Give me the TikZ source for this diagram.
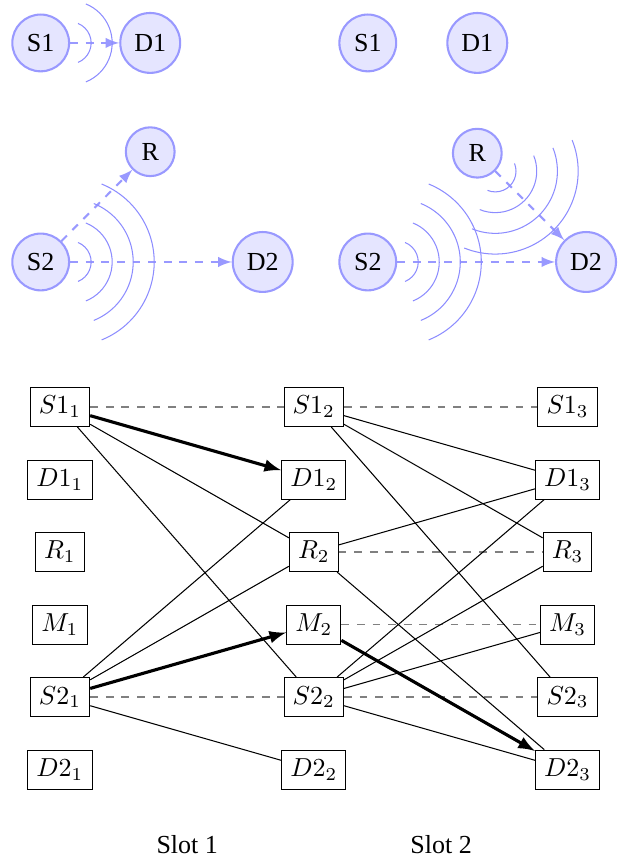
\documentclass[tikz,border=0pt]{standalone}
\usepackage[no-math]{fontspec}
\newfontfamily\timesfont{Liberation Serif}
\usepackage{amsmath}
\usetikzlibrary{arrows}

\begin{document}
\begin{tikzpicture}[
  nodo/.style = {circle, draw = blue!40, fill = blue!10, thick, font = \timesfont},
  enlace/.style = {thick, dashed, blue!40, -latex},
  onda/.style = {blue!45},
  caja/.style = {draw, rectangle},
  tx/.style = {very thick, -latex},
  espera/.style = {semithick, dashed, gray}
]
\useasboundingbox (0,0) rectangle (8.405,-11.608);

% slot 1
\node[nodo] (S1a) at (0.55,-0.58) {S1};
\node[nodo] (D1a) at (2.03,-0.58) {D1};
\node[nodo] (Ra) at (2.03,-2.05) {R};
\node[nodo] (S2a) at (0.55,-3.54) {S2};
\node[nodo] (D2a) at (3.55,-3.54) {D2};

\draw[enlace] (S1a) -- (D1a);
\draw[enlace] (S2a) -- (Ra);
\draw[enlace] (S2a) -- (D2a);

\foreach \r in {1,2}
  \draw[onda, shift={(S1a.east)}] (-68:0.284*\r) arc (-68:68:0.284*\r);
\foreach \r in {1,...,4}
  \draw[onda, shift={(S2a.east)}] (-68:0.284*\r) arc (-68:68:0.284*\r);

% slot 2
\node[nodo] (S1b) at (4.97,-0.58) {S1};
\node[nodo] (D1b) at (6.45,-0.58) {D1};
\node[nodo] (Rb) at (6.45,-2.07) {R};
\node[nodo] (S2b) at (4.97,-3.54) {S2};
\node[nodo] (D2b) at (7.92,-3.54) {D2};

\draw[enlace] (Rb) -- (D2b);
\draw[enlace] (S2b) -- (D2b);

\foreach \r in {1,...,4} {
  \draw[onda, shift={(S2b.east)}] (-68:0.284*\r) arc (-68:68:0.284*\r);
  \draw[onda, shift={(Rb.south east)}] (-112:0.28*\r) arc (-112:22:0.28*\r);
}

% time-expanded graph
\foreach \col in {1,2,3}
  \foreach \nom/\fila in {S1/0, D1/1, R/2, M/3, S2/4, D2/5}
    \node[caja] (\nom-\col) at ({0.81+3.43*(\col-1)},{-5.5-0.98*\fila}) {$\nom_\col$};

\foreach \a/\b in {S1-1/S1-2, S2-1/S2-2, S1-2/S1-3, R-2/R-3, M-2/M-3, S2-2/S2-3}
  \draw[espera] (\a) -- (\b);

\foreach \a/\b in {S1-1/R-2, S1-1/S2-2, S2-1/D1-2, S2-1/R-2, S2-1/D2-2,
                   S1-2/D1-3, S1-2/R-3, S1-2/S2-3, R-2/D1-3, R-2/D2-3,
                   S2-2/D1-3, S2-2/R-3, S2-2/M-3, S2-2/D2-3}
  \draw (\a) -- (\b);

\draw[tx] (S1-1) -- (D1-2);
\draw[tx] (S2-1) -- (M-2);
\draw[tx] (M-2) -- (D2-3);

\node (slot1) at (2.53,-11.41) {\timesfont Slot 1};
\node (slot2) at (5.96,-11.41) {\timesfont Slot 2};

\end{tikzpicture}
\end{document}
